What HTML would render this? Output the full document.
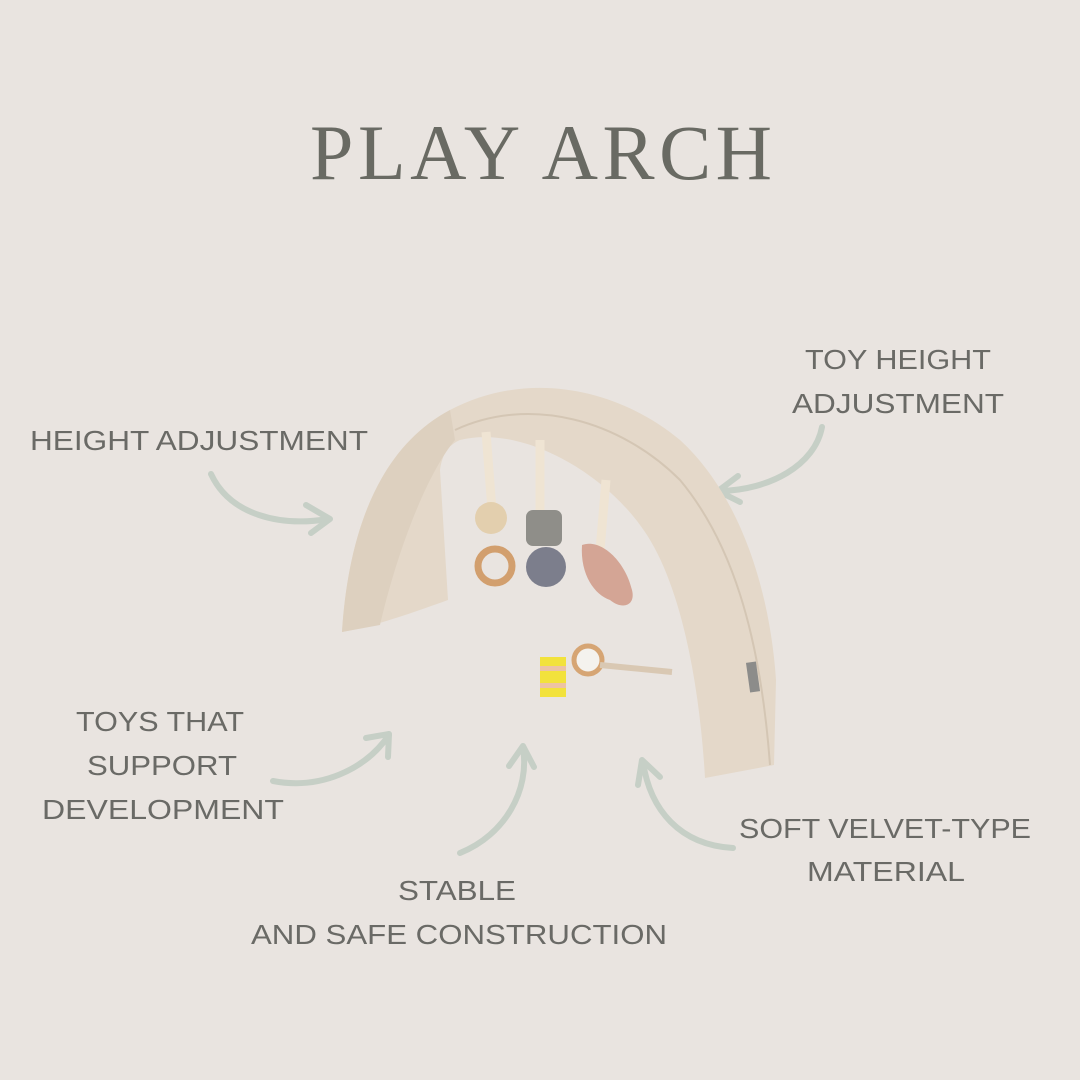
<!DOCTYPE html>
<html><head><meta charset="utf-8"><style>
html,body{margin:0;padding:0;background:#e9e4e0;}
svg{display:block}
</style></head><body>
<svg width="1080" height="1080" viewBox="0 0 1080 1080" xmlns="http://www.w3.org/2000/svg">
<rect width="1080" height="1080" fill="#e9e4e0"/>
<text x="310" y="179" font-family="Liberation Serif, serif" font-size="78" fill="#696a63" textLength="462" lengthAdjust="spacing">PLAY ARCH</text>
<g font-family="Liberation Sans, sans-serif" font-size="28" fill="#6a6a66" text-anchor="middle">
<text x="199" y="450" textLength="338" lengthAdjust="spacingAndGlyphs">HEIGHT ADJUSTMENT</text>
<text x="898" y="369" textLength="186" lengthAdjust="spacingAndGlyphs">TOY HEIGHT</text>
<text x="898" y="413" textLength="212" lengthAdjust="spacingAndGlyphs">ADJUSTMENT</text>
<text x="160" y="731" textLength="168" lengthAdjust="spacingAndGlyphs">TOYS THAT</text>
<text x="162" y="775" textLength="150" lengthAdjust="spacingAndGlyphs">SUPPORT</text>
<text x="163" y="819" textLength="242" lengthAdjust="spacingAndGlyphs">DEVELOPMENT</text>
<text x="457" y="900" textLength="118" lengthAdjust="spacingAndGlyphs">STABLE</text>
<text x="459" y="944" textLength="416" lengthAdjust="spacingAndGlyphs">AND SAFE CONSTRUCTION</text>
<text x="885" y="838" textLength="292" lengthAdjust="spacingAndGlyphs">SOFT VELVET-TYPE</text>
<text x="886" y="881" textLength="158" lengthAdjust="spacingAndGlyphs">MATERIAL</text>
</g>
<g fill="none" stroke="#c6cfc6" stroke-width="6" stroke-linecap="round" stroke-linejoin="round">
<path d="M211,474 C230,515 280,527 328,519"/><path d="M306,505 L330,519 L311,533"/>
<path d="M822,427 C815,465 770,490 720,491"/><path d="M738,476 L718,491 L740,502"/>
<path d="M273,781 C320,790 365,770 389,735"/><path d="M366,738 L389,734 L388,757"/>
<path d="M460,853 C505,835 530,790 523,748"/><path d="M509,766 L523,746 L534,767"/>
<path d="M733,848 C680,845 650,810 643,762"/><path d="M638,785 L642,760 L660,777"/>
</g>
<path d="M342,632 C348,540 375,450 450,410 C530,368 620,390 680,440 C740,495 770,590 776,680 L774,765 L705,778 C700,690 682,580 640,525 C600,470 520,425 460,440 C448,445 442,455 440,470 L448,600 C420,610 380,625 342,632 Z" fill="#e4d8c9"/>
<path d="M342,632 C348,540 375,450 450,410 L455,440 C430,470 400,540 380,625 Z" fill="#ddd0bf"/>
<path d="M455,430 C530,395 620,420 680,480 C730,540 760,630 770,765" fill="none" stroke="#d4c6b4" stroke-width="2"/>
<rect x="748" y="662" width="10" height="30" fill="#8c8c8a" transform="rotate(-8 753 677)"/>
<g stroke="#efe4d3" stroke-width="9"><line x1="486" y1="432" x2="492" y2="510"/><line x1="540" y1="440" x2="540" y2="515"/><line x1="606" y1="480" x2="600" y2="550"/></g>
<circle cx="491" cy="518" r="16" fill="#e3cfae"/>
<circle cx="495" cy="566" r="17" fill="none" stroke="#d29f6e" stroke-width="7"/>
<rect x="526" y="510" width="36" height="36" rx="7" fill="#8f8e89"/>
<circle cx="546" cy="567" r="20" fill="#7c7e8c"/>
<path d="M582,545 C600,538 625,560 632,590 C636,606 622,610 610,600 C595,595 580,575 582,545Z" fill="#d4a595"/>
<rect x="540" y="657" width="26" height="40" fill="#f2e23c"/>
<rect x="540" y="666" width="26" height="5" fill="#edc3a3"/><rect x="540" y="683" width="26" height="5" fill="#edc3a3"/>
<circle cx="588" cy="660" r="14" fill="#f4f2ee" stroke="#d6a574" stroke-width="5"/>
<path d="M600,665 L672,672" stroke="#d9c8b3" stroke-width="6"/>
</svg>
</body></html>
